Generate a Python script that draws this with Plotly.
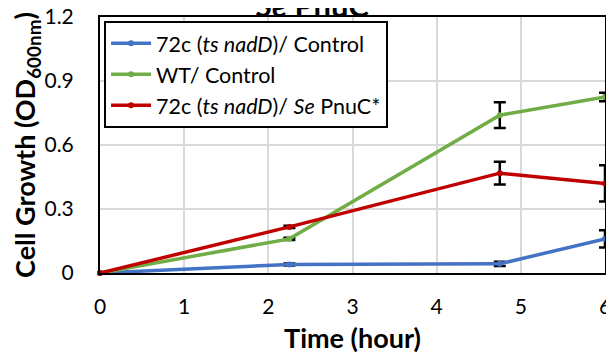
import plotly.graph_objects as go

time_h = [0, 2.25, 4.75, 6]
blue_vals = [0, 0.04, 0.043, 0.16]
blue_err = [0, 0.005, 0.01, 0.04]
green_vals = [0, 0.16, 0.74, 0.825]
green_err = [0, 0.005, 0.06, 0.02]
red_vals = [0, 0.216, 0.468, 0.42]
red_err = [0, 0.005, 0.053, 0.085]

y_ticks = [0, 0.3, 0.6, 0.9, 1.2]
y_labels = ["0", "0.3", "0.6", "0.9", "1.2"]

names = ["72c (<i>ts nadD</i>)/ Control", "WT/ Control", "72c (<i>ts nadD</i>)/ <i>Se</i> PnuC*"]
colors = ["#4472C4", "#70AD47", "#C00000"]
title_text = "<b><i>Se</i> PnuC</b>"

FONT = "Lato"
fig = go.Figure()
for name, vals, err, col in zip(names, [blue_vals, green_vals, red_vals],
                                [blue_err, green_err, red_err], colors):
    fig.add_trace(go.Scatter(
        x=time_h, y=vals, name=name, mode="lines+markers",
        line=dict(color=col, width=3.5), marker=dict(color=col, size=6),
        error_y=dict(type="data", array=err, color="black", thickness=2.5, width=6),
        cliponaxis=False,
    ))

# page body adds an 8px offset; margins compensate
fig.update_layout(
    width=614, height=360,
    margin=dict(l=92, r=17, t=9, b=95, autoexpand=False),
    paper_bgcolor="white", plot_bgcolor="white",
    font=dict(family=FONT, size=21, color="black"),
    showlegend=True,
    legend=dict(x=0.008, y=0.985, xanchor="left", yanchor="top",
                bgcolor="white", bordercolor="black", borderwidth=2,
                font=dict(family=FONT, size=21.5, color="black"),
                tracegroupgap=0, itemwidth=40),
)
fig.add_annotation(text=title_text, xref="paper", yref="paper", x=0.42, y=1,
                   xanchor="center", yanchor="middle", yshift=12, showarrow=False,
                   font=dict(family=FONT, size=31, color="black"))
fig.update_xaxes(range=[0, 6], dtick=1, tick0=0, showgrid=True, gridcolor="#D9D9D9", gridwidth=1.5,
                 showline=True, linecolor="black", linewidth=2, mirror=True, automargin=False,
                 ticks="", ticklabelstandoff=14, zeroline=False, ticklabeloverflow="allow",
                 title=dict(text="<b>Time (hour)</b>", font=dict(family=FONT, size=27), standoff=12),
                 tickfont=dict(family=FONT, size=21))
fig.update_yaxes(range=[0, 1.2], tickmode="array", tickvals=y_ticks, ticktext=y_labels,
                 showgrid=True, gridcolor="#D9D9D9", gridwidth=1.5,
                 showline=True, linecolor="black", linewidth=2, mirror=True, automargin=False,
                 ticks="", ticklabelstandoff=20, zeroline=False, ticklabeloverflow="allow",
                 title=dict(text="<b>Cell Growth (OD<sub>600nm</sub>)</b>", font=dict(family=FONT, size=27), standoff=4),
                 tickfont=dict(family=FONT, size=21))

fig.write_html("out.html")
